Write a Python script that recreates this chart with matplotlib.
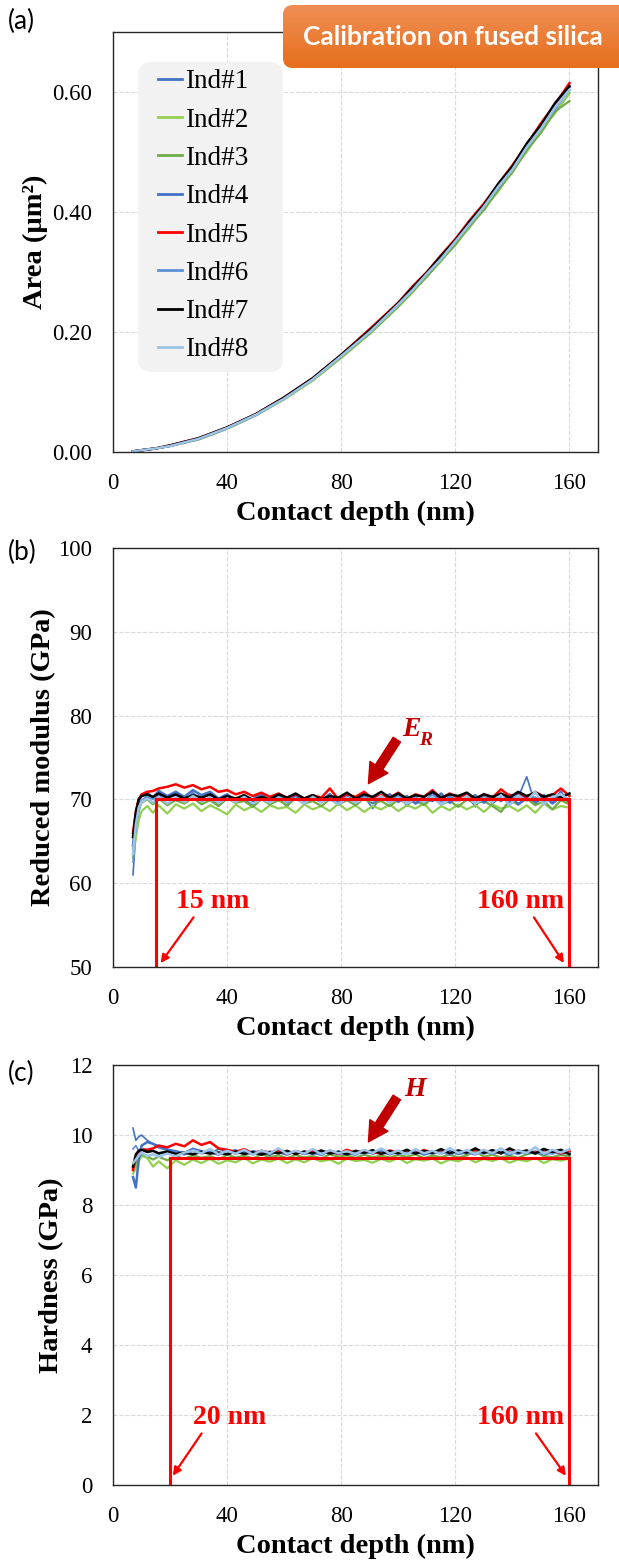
import matplotlib
matplotlib.use("Agg")
import numpy as np
import matplotlib.pyplot as plt
from matplotlib.patches import FancyBboxPatch
from matplotlib.transforms import IdentityTransform
from matplotlib.colors import LinearSegmentedColormap

plt.rcParams['font.family'] = ['Liberation Serif', 'DejaVu Serif']

# ---- data ----
labels = ['Ind#1', 'Ind#2', 'Ind#3', 'Ind#4', 'Ind#5', 'Ind#6', 'Ind#7', 'Ind#8']
colors = ['#4472C4', '#92D050', '#70AD47', '#4472C4', '#FF0000', '#5B8FD8', '#000000', '#9DC3E6']
widths = [1.2, 1.6, 1.6, 1.8, 1.8, 1.2, 1.8, 1.8]

# (a) area vs contact depth
depth_a = [7, 10, 15, 20, 30, 40, 50, 60,
           70, 80, 90, 100, 105, 110, 115, 120,
           125, 130, 135, 140, 145, 150, 155, 160]
area = [
    [0.001, 0.003, 0.006, 0.010, 0.022, 0.040, 0.062, 0.089, 0.121, 0.159, 0.201, 0.244,
     0.273, 0.293, 0.326, 0.347, 0.383, 0.406, 0.445, 0.468, 0.512, 0.536, 0.578, 0.602],
    [0.001, 0.003, 0.006, 0.010, 0.021, 0.039, 0.061, 0.088, 0.119, 0.157, 0.197, 0.242,
     0.266, 0.294, 0.318, 0.348, 0.374, 0.407, 0.434, 0.470, 0.500, 0.537, 0.565, 0.598],
    [0.001, 0.003, 0.006, 0.010, 0.021, 0.039, 0.061, 0.088, 0.120, 0.158, 0.198, 0.243,
     0.268, 0.292, 0.320, 0.345, 0.377, 0.403, 0.437, 0.466, 0.503, 0.532, 0.568, 0.585],
    [0.001, 0.003, 0.006, 0.010, 0.022, 0.040, 0.062, 0.090, 0.122, 0.161, 0.202, 0.248,
     0.271, 0.299, 0.323, 0.353, 0.380, 0.413, 0.441, 0.476, 0.509, 0.545, 0.574, 0.608],
    [0.001, 0.003, 0.006, 0.011, 0.023, 0.041, 0.063, 0.091, 0.123, 0.162, 0.205, 0.249,
     0.276, 0.300, 0.328, 0.355, 0.386, 0.414, 0.446, 0.478, 0.512, 0.548, 0.580, 0.615],
    [0.001, 0.003, 0.006, 0.010, 0.022, 0.040, 0.062, 0.089, 0.121, 0.160, 0.200, 0.245,
     0.269, 0.297, 0.321, 0.351, 0.378, 0.411, 0.439, 0.473, 0.506, 0.541, 0.571, 0.603],
    [0.001, 0.003, 0.006, 0.011, 0.023, 0.041, 0.063, 0.091, 0.123, 0.162, 0.203, 0.248,
     0.274, 0.299, 0.327, 0.353, 0.384, 0.412, 0.447, 0.476, 0.514, 0.545, 0.582, 0.610],
    [0.001, 0.003, 0.006, 0.010, 0.022, 0.040, 0.062, 0.089, 0.121, 0.160, 0.200, 0.246,
     0.270, 0.297, 0.322, 0.351, 0.380, 0.409, 0.442, 0.471, 0.508, 0.539, 0.575, 0.604],
]

# (b) and (c) share the same depth samples
depth = [7, 8, 9, 10, 12, 14, 16, 19, 22, 25, 28,
         31, 34, 37, 40, 43, 46, 49, 52, 55, 58, 61,
         64, 67, 70, 73, 76, 79, 82, 85, 88, 91, 94,
         97, 100, 103, 106, 109, 112, 115, 118, 121, 124, 127,
         130, 133, 136, 139, 142, 145, 148, 151, 154, 157, 160]

modulus = [
    [61.0, 66.0, 68.5, 69.8, 70.3, 69.5, 70.6, 69.4, 70.2, 69.6, 70.8,
     69.7, 70.3, 69.2, 70.5, 69.8, 70.1, 69.3, 70.4, 69.5, 70.2, 69.1,
     70.5, 69.4, 70.2, 69.6, 70.7, 69.3, 70.1, 69.6, 70.4, 68.9, 70.3,
     69.6, 70.7, 69.2, 70.3, 69.5, 70.8, 69.3, 70.4, 69.8, 70.6, 69.1,
     70.7, 69.5, 70.3, 69.6, 70.2, 72.7, 69.4, 70.5, 69.6, 71.0, 69.3],
    [63.0, 65.5, 67.5, 68.6, 69.2, 68.4, 69.3, 68.3, 69.4, 68.9, 69.5,
     68.6, 69.3, 68.8, 68.2, 69.4, 68.7, 69.2, 68.5, 69.3, 68.9, 69.1,
     68.4, 69.4, 68.8, 69.2, 68.6, 69.5, 68.7, 69.3, 68.5, 69.2, 68.8,
     69.4, 68.6, 69.3, 68.9, 69.5, 68.4, 69.2, 68.7, 69.4, 68.8, 69.3,
     68.5, 69.4, 68.9, 69.2, 68.6, 69.3, 68.4, 69.5, 68.8, 69.2, 69.0],
    [64.0, 67.0, 68.8, 69.6, 70.0, 69.4, 70.1, 69.3, 69.9, 69.5, 70.2,
     69.4, 69.9, 69.2, 70.1, 69.6, 69.8, 69.1, 70.0, 69.4, 69.9, 69.3,
     70.1, 69.5, 69.8, 69.2, 70.0, 69.4, 69.9, 69.3, 70.1, 69.5, 69.8,
     69.2, 70.0, 69.5, 69.9, 69.3, 70.2, 69.4, 69.8, 69.1, 70.0, 69.5,
     69.8, 69.2, 68.5, 69.9, 69.4, 70.1, 69.3, 69.8, 68.8, 69.9, 69.4],
    [64.5, 68.0, 69.8, 70.5, 70.8, 70.2, 71.0, 70.4, 70.9, 70.3, 71.1,
     70.5, 70.9, 70.1, 70.6, 69.8, 70.4, 70.0, 70.7, 69.7, 70.3, 69.9,
     70.5, 69.6, 70.2, 69.9, 70.6, 69.5, 70.3, 69.8, 70.5, 69.6, 70.2,
     70.6, 69.7, 70.4, 69.5, 70.1, 69.8, 70.7, 69.6, 70.3, 69.9, 70.5,
     69.6, 70.4, 69.8, 70.6, 69.4, 70.2, 69.7, 70.5, 69.5, 70.3, 70.0],
    [66.0, 68.5, 70.0, 70.6, 70.9, 71.0, 71.3, 71.5, 71.8, 71.4, 71.7,
     71.2, 71.5, 70.9, 71.1, 70.6, 70.9, 70.4, 70.8, 70.3, 70.7, 70.2,
     70.6, 70.1, 70.5, 70.2, 71.3, 70.0, 70.6, 70.3, 70.9, 70.1, 70.5,
     70.2, 70.8, 70.0, 70.6, 70.3, 71.1, 70.1, 70.7, 70.2, 70.5, 70.0,
     70.6, 70.2, 71.2, 70.4, 70.7, 70.1, 70.9, 70.3, 70.5, 71.3, 70.4],
    [62.5, 66.5, 68.9, 69.9, 70.4, 70.0, 70.6, 70.1, 70.5, 69.9, 70.7,
     70.2, 70.6, 69.8, 70.3, 69.9, 70.5, 69.7, 70.2, 69.8, 70.4, 69.6,
     70.1, 69.7, 70.4, 69.8, 70.3, 69.6, 70.2, 69.9, 70.5, 69.7, 70.3,
     69.8, 70.4, 69.6, 70.2, 69.9, 70.5, 69.7, 70.3, 69.8, 70.1, 69.6,
     70.4, 69.8, 70.2, 69.7, 70.6, 69.9, 70.3, 69.6, 70.2, 70.5, 69.8],
    [65.5, 68.5, 70.0, 70.4, 70.6, 70.3, 70.7, 70.2, 70.6, 70.1, 70.5,
     70.2, 70.6, 70.0, 70.4, 70.1, 70.5, 69.9, 70.3, 70.0, 70.6, 70.2,
     70.7, 70.1, 70.5, 70.0, 70.4, 70.2, 70.8, 70.1, 70.6, 70.3, 70.9,
     70.2, 70.7, 70.1, 70.5, 70.3, 70.9, 70.2, 70.6, 70.4, 70.8, 70.1,
     70.6, 70.3, 70.7, 70.2, 70.9, 70.4, 70.8, 70.3, 70.6, 70.2, 70.7],
    [63.5, 67.0, 69.0, 69.7, 70.1, 69.6, 70.3, 69.5, 70.2, 69.7, 70.4,
     69.8, 70.2, 69.6, 70.1, 69.7, 70.3, 69.5, 70.0, 69.6, 70.2, 69.8,
     70.1, 69.5, 70.3, 69.7, 70.0, 69.4, 70.2, 69.6, 70.1, 69.8, 70.4,
     69.6, 70.2, 69.5, 70.1, 69.7, 70.3, 69.4, 70.0, 69.8, 70.4, 69.5,
     70.1, 69.7, 70.5, 69.3, 70.4, 69.8, 70.9, 69.4, 70.3, 70.6, 69.9],
]

hardness = [
    [10.20, 9.85, 9.95, 10.00, 9.85, 9.75, 9.70, 9.60, 9.55, 9.50, 9.62,
     9.55, 9.48, 9.60, 9.52, 9.58, 9.45, 9.55, 9.50, 9.42, 9.55, 9.48,
     9.52, 9.45, 9.58, 9.47, 9.53, 9.44, 9.56, 9.49, 9.52, 9.46, 9.55,
     9.48, 9.54, 9.45, 9.57, 9.50, 9.46, 9.55, 9.48, 9.53, 9.45, 9.58,
     9.49, 9.55, 9.47, 9.52, 9.46, 9.56, 9.50, 9.62, 9.48, 9.54, 9.47],
    [8.90, 9.05, 9.25, 9.40, 9.35, 9.10, 9.25, 9.05, 9.28, 9.15, 9.30,
     9.20, 9.32, 9.18, 9.28, 9.22, 9.35, 9.19, 9.30, 9.24, 9.33, 9.20,
     9.31, 9.22, 9.34, 9.25, 9.30, 9.18, 9.33, 9.26, 9.29, 9.21, 9.32,
     9.24, 9.35, 9.20, 9.31, 9.27, 9.33, 9.19, 9.30, 9.25, 9.36, 9.22,
     9.32, 9.26, 9.34, 9.21, 9.30, 9.25, 9.35, 9.20, 9.31, 9.27, 9.33],
    [9.05, 9.20, 9.35, 9.45, 9.40, 9.30, 9.38, 9.28, 9.40, 9.32, 9.42,
     9.35, 9.40, 9.30, 9.44, 9.36, 9.41, 9.33, 9.45, 9.37, 9.42, 9.34,
     9.43, 9.36, 9.40, 9.33, 9.45, 9.38, 9.42, 9.35, 9.44, 9.37, 9.41,
     9.36, 9.43, 9.38, 9.45, 9.34, 9.41, 9.37, 9.44, 9.36, 9.42, 9.55,
     9.38, 9.44, 9.36, 9.41, 9.35, 9.45, 9.52, 9.40, 9.37, 9.43, 9.39],
    [8.80, 8.50, 9.30, 9.70, 9.80, 9.75, 9.65, 9.58, 9.50, 9.45, 9.55,
     9.48, 9.52, 9.44, 9.56, 9.47, 9.53, 9.45, 9.55, 9.48, 9.51, 9.44,
     9.54, 9.46, 9.52, 9.43, 9.55, 9.47, 9.50, 9.44, 9.56, 9.48, 9.52,
     9.45, 9.53, 9.47, 9.55, 9.44, 9.52, 9.48, 9.54, 9.46, 9.51, 9.45,
     9.55, 9.47, 9.52, 9.44, 9.56, 9.48, 9.53, 9.45, 9.51, 9.47, 9.50],
    [9.00, 9.35, 9.55, 9.60, 9.58, 9.62, 9.70, 9.65, 9.75, 9.68, 9.85,
     9.72, 9.80, 9.62, 9.58, 9.52, 9.60, 9.48, 9.55, 9.50, 9.57, 9.46,
     9.54, 9.48, 9.56, 9.50, 9.53, 9.47, 9.58, 9.49, 9.55, 9.51, 9.47,
     9.56, 9.49, 9.54, 9.48, 9.57, 9.50, 9.53, 9.47, 9.55, 9.49, 9.58,
     9.50, 9.54, 9.48, 9.60, 9.51, 9.55, 9.49, 9.57, 9.52, 9.48, 9.53],
    [9.60, 9.70, 9.55, 9.62, 9.50, 9.55, 9.45, 9.52, 9.44, 9.50, 9.46,
     9.53, 9.47, 9.51, 9.44, 9.52, 9.46, 9.54, 9.45, 9.50, 9.47, 9.53,
     9.46, 9.52, 9.44, 9.51, 9.47, 9.55, 9.45, 9.50, 9.46, 9.53, 9.48,
     9.52, 9.45, 9.50, 9.47, 9.54, 9.46, 9.51, 9.44, 9.52, 9.48, 9.50,
     9.46, 9.53, 9.48, 9.51, 9.45, 9.54, 9.47, 9.50, 9.46, 9.52, 9.49],
    [9.10, 9.45, 9.55, 9.58, 9.52, 9.55, 9.48, 9.53, 9.46, 9.50, 9.45,
     9.52, 9.47, 9.50, 9.45, 9.53, 9.46, 9.51, 9.44, 9.52, 9.48, 9.55,
     9.46, 9.53, 9.48, 9.56, 9.47, 9.52, 9.45, 9.55, 9.49, 9.57, 9.46,
     9.54, 9.48, 9.58, 9.47, 9.55, 9.49, 9.60, 9.48, 9.56, 9.50, 9.62,
     9.49, 9.57, 9.48, 9.62, 9.50, 9.56, 9.47, 9.60, 9.52, 9.58, 9.45],
    [9.20, 9.30, 9.42, 9.50, 9.40, 9.45, 9.38, 9.47, 9.40, 9.50, 9.55,
     9.48, 9.60, 9.45, 9.55, 9.47, 9.58, 9.44, 9.56, 9.48, 9.62, 9.46,
     9.55, 9.47, 9.60, 9.45, 9.57, 9.48, 9.54, 9.46, 9.58, 9.49, 9.62,
     9.47, 9.56, 9.45, 9.60, 9.48, 9.55, 9.46, 9.63, 9.49, 9.57, 9.46,
     9.58, 9.48, 9.62, 9.47, 9.56, 9.49, 9.65, 9.47, 9.58, 9.50, 9.60],
]

# fit window and fitted values drawn in red
er_range = [15, 160]
er_value = 70.0
h_range = [20, 160]
h_value = 9.35

RED = '#FF0000'
DARKRED = '#C00000'
H = 1564  # figure height in px, used for pixel placed patches


def style_axes(ax, ylim, yticks, yfmt, ylabel, ylabel_x):
    ax.set_xlim(0, 170)
    ax.set_ylim(*ylim)
    ax.set_xticks([0, 40, 80, 120, 160])
    ax.set_yticks(yticks)
    ax.set_yticklabels([yfmt.format(v) for v in yticks])
    ax.tick_params(length=0, labelsize=16.5)
    ax.tick_params(axis='y', pad=15)
    ax.tick_params(axis='x', pad=15)
    ax.grid(True, color='#D9D9D9', linestyle='--', linewidth=0.8)
    ax.set_axisbelow(True)
    for s in ax.spines.values():
        s.set_color('#262626')
        s.set_linewidth(1.0)
    ax.set_xlabel('Contact depth (nm)', fontsize=20.5, fontweight='bold', labelpad=5)
    ax.set_ylabel(ylabel, fontsize=20.5, fontweight='bold')
    ax.yaxis.set_label_coords(ylabel_x, 0.5)


fig = plt.figure(figsize=(6.19, 15.64), dpi=100)
ax_a = fig.add_axes([0.1826, 0.711, 0.7835, 0.2685])
ax_b = fig.add_axes([0.1826, 0.3817, 0.7835, 0.268])
ax_c = fig.add_axes([0.1826, 0.0505, 0.7835, 0.2685])

# (a) area function
for i in range(8):
    ax_a.plot(depth_a, area[i], color=colors[i], lw=widths[i], label=labels[i])
style_axes(ax_a, (0, 0.7), [0.0, 0.2, 0.4, 0.6], '{:.2f}', 'Area (µm²)', -0.134)

# grey rounded legend background
ax_a.add_patch(FancyBboxPatch((138, H - 372), 145, 310, boxstyle='round,pad=0,rounding_size=14',
                              transform=IdentityTransform(), facecolor='#F2F2F2',
                              edgecolor='none', zorder=4))
leg = ax_a.legend(loc='upper left', bbox_to_anchor=(0.0928, 0.911), fontsize=19.5,
                  frameon=False, handlelength=0.9, handletextpad=0.08,
                  labelspacing=0.49, borderpad=0, borderaxespad=0)
leg.set_zorder(5)
for ln in leg.get_lines():
    ln.set_linewidth(2)

# (b) reduced modulus
for i in range(8):
    ax_b.plot(depth, modulus[i], color=colors[i], lw=widths[i])
style_axes(ax_b, (50, 100), [50, 60, 70, 80, 90, 100], '{:d}', 'Reduced modulus (GPa)', -0.118)
ax_b.plot(er_range, [er_value, er_value], color=RED, lw=2.2)
ax_b.plot([er_range[0], er_range[0]], [50, er_value], color=RED, lw=2.2)
ax_b.plot([er_range[1], er_range[1]], [50, er_value], color=RED, lw=2.2)
ax_b.annotate('', xy=(16.1, 50.2), xytext=(28.8, 56.2),
              arrowprops=dict(arrowstyle='-|>', color=RED, lw=1.6, mutation_scale=12))
ax_b.annotate('', xy=(158.6, 50.2), xytext=(147, 56.2),
              arrowprops=dict(arrowstyle='-|>', color=RED, lw=1.6, mutation_scale=12))
ax_b.text(34.9, 57.8, '15 nm', color=RED, fontsize=20, fontweight='bold', ha='center', va='center')
ax_b.text(142.7, 57.8, '160 nm', color=RED, fontsize=20, fontweight='bold', ha='center', va='center')
ax_b.annotate('', xy=(89, 71.6), xytext=(100, 77.4),
              arrowprops=dict(arrowstyle='simple,head_width=1.1,head_length=1.0,tail_width=0.45',
                              color=DARKRED, mutation_scale=14))
ax_b.text(101.5, 78.3, 'E', color=DARKRED, fontsize=20, fontweight='bold', style='italic', va='center')
ax_b.text(107.3, 77.0, 'R', color=DARKRED, fontsize=14, fontweight='bold', style='italic', va='center')

# (c) hardness
for i in range(8):
    ax_c.plot(depth, hardness[i], color=colors[i], lw=widths[i])
style_axes(ax_c, (0, 12), [0, 2, 4, 6, 8, 10, 12], '{:d}', 'Hardness (GPa)', -0.101)
ax_c.plot(h_range, [h_value, h_value], color=RED, lw=2.2)
ax_c.plot([h_range[0], h_range[0]], [0, h_value], color=RED, lw=2.2)
ax_c.plot([h_range[1], h_range[1]], [0, h_value], color=RED, lw=2.2)
ax_c.annotate('', xy=(20.4, 0.2), xytext=(31.6, 1.54),
              arrowprops=dict(arrowstyle='-|>', color=RED, lw=1.6, mutation_scale=12))
ax_c.annotate('', xy=(159.3, 0.2), xytext=(147.7, 1.54),
              arrowprops=dict(arrowstyle='-|>', color=RED, lw=1.6, mutation_scale=12))
ax_c.text(41, 1.94, '20 nm', color=RED, fontsize=20, fontweight='bold', ha='center', va='center')
ax_c.text(143, 1.94, '160 nm', color=RED, fontsize=20, fontweight='bold', ha='center', va='center')
ax_c.annotate('', xy=(89, 9.74), xytext=(100, 11.14),
              arrowprops=dict(arrowstyle='simple,head_width=1.1,head_length=1.0,tail_width=0.45',
                              color=DARKRED, mutation_scale=14))
ax_c.text(106, 11.3, 'H', color=DARKRED, fontsize=20, fontweight='bold', style='italic',
          ha='center', va='center')

# panel letters
for lbl, ypix in [('(a)', 21), ('(b)', 552), ('(c)', 1073)]:
    fig.text(8 / 619, 1 - ypix / H, lbl, fontsize=19, family='Lato', va='center')

# orange badge with a soft vertical gradient, top right
ax_badge = fig.add_axes([283 / 619, 1 - 68 / H, 1 - 283 / 619, 63 / H], zorder=10)
ax_badge.axis('off')
badge_cmap = LinearSegmentedColormap.from_list('badge', ['#E66F1C', '#F08E55'])
im = ax_badge.imshow(np.linspace(0, 1, 64).reshape(-1, 1), cmap=badge_cmap, origin='lower',
                     extent=[0, 1, 0, 1], aspect='auto')
badge = FancyBboxPatch((283, H - 68), 380, 63, boxstyle='round,pad=0,rounding_size=10',
                       transform=IdentityTransform(), facecolor='none', edgecolor='none')
im.set_clip_path(badge)
fig.text(453 / 619, 1 - 37 / H, 'Calibration on fused silica', color='white',
         fontsize=19, fontweight='bold', family='Lato', ha='center', va='center', zorder=11)

fig.savefig('out.png', dpi=100)
